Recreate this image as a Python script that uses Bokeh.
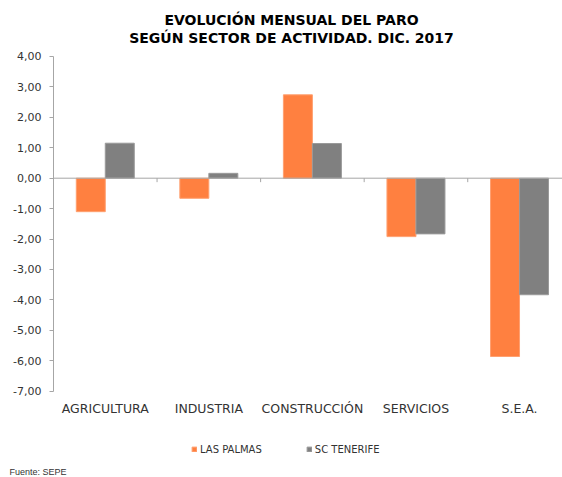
import numpy as np
from bokeh.plotting import figure
from bokeh.models import (Range1d, FixedTicker, Span, Title, Legend, LegendItem, Label)
from bokeh.core.properties import value
from bokeh.embed import file_html
from bokeh.resources import INLINE

categories = ["AGRICULTURA", "INDUSTRIA", "CONSTRUCCIÓN", "SERVICIOS", "S.E.A."]
las_palmas = [-1.10, -0.66, 2.74, -1.92, -5.86]
sc_tenerife = [1.15, 0.16, 1.14, -1.83, -3.83]
y_ticks = [-7, -6, -5, -4, -3, -2, -1, 0, 1, 2, 3, 4]
series_names = ["LAS PALMAS", "SC TENERIFE"]
title_lines = ["EVOLUCIÓN MENSUAL DEL PARO", "SEGÚN SECTOR DE ACTIVIDAD. DIC. 2017"]
source_text = "Fuente: SEPE"

ORANGE = "#FF8040"
GREY = "#808080"
AXIS_GREY = "#A6A6A6"
TEXT = "#333333"

idx = np.arange(len(categories))
bw = 0.28
y_min, y_max = min(y_ticks), max(y_ticks)

# frame spans from canvas top to the source line; value axis limited to its ticks
p = figure(width=562, height=477, output_backend="svg", toolbar_location=None,
           title=None, x_axis_location=None,
           x_range=Range1d(-0.5, 4.415), y_range=Range1d(-9.409, 5.84),
           min_border_left=53, min_border_right=0, min_border_top=0,
           min_border_bottom=13)
p.outline_line_color = None
p.xgrid.grid_line_color = None
p.ygrid.grid_line_color = None

r1 = p.vbar(x=idx - bw / 2, top=las_palmas, bottom=0, width=bw, fill_color=ORANGE,
            line_color="#FFA070", line_width=1)
r2 = p.vbar(x=idx + bw / 2, top=sc_tenerife, bottom=0, width=bw, fill_color=GREY,
            line_color="#9A9A9A", line_width=1)

# zero line and category separator ticks
p.add_layout(Span(location=0, dimension="width", line_color=AXIS_GREY, line_width=1))
bounds = idx + 0.5
p.segment(x0=bounds, x1=bounds, y0=[0] * len(bounds), y1=[-0.13] * len(bounds),
          line_color=AXIS_GREY, line_width=1)

# category labels under the value axis minimum
p.text(x=idx, y=[y_min] * len(idx), text=categories, y_offset=17,
       text_align="center", text_baseline="middle",
       text_font=value("DejaVu Sans"), text_font_size="12.5px", text_color=TEXT)

# y axis
p.yaxis.bounds = (y_min, y_max)
p.yaxis.ticker = FixedTicker(ticks=y_ticks)
p.yaxis.major_label_overrides = {t: f"{t:.2f}".replace(".", ",") for t in y_ticks}
p.yaxis.axis_line_color = AXIS_GREY
p.yaxis.major_tick_line_color = AXIS_GREY
p.yaxis.major_tick_in = 0
p.yaxis.major_tick_out = 4
p.yaxis.minor_tick_line_color = None
p.yaxis.major_label_standoff = 8
p.yaxis.major_label_text_font = "DejaVu Sans"
p.yaxis.major_label_text_font_size = "11px"
p.yaxis.major_label_text_color = TEXT

# titles (screen units relative to the frame's bottom-left)
for line, ys in zip(title_lines, [445, 427]):
    p.add_layout(Label(x=238, y=ys, x_units="screen", y_units="screen", text=line,
                       text_align="center", text_baseline="middle",
                       text_font="DejaVu Sans", text_font_size="14px",
                       text_font_style="bold", text_color="#000000"))

legend = Legend(items=[LegendItem(label=series_names[0], renderers=[r1]),
                       LegendItem(label=series_names[1], renderers=[r2])],
                orientation="horizontal", location=(138, 9),
                glyph_width=6, glyph_height=6, label_standoff=3, spacing=44,
                label_text_font="DejaVu Sans", label_text_font_size="10px",
                label_text_color=TEXT, border_line_color=None,
                background_fill_alpha=0, padding=3, margin=0, label_height=12)
p.add_layout(legend, "center")

src = Title(text=source_text, align="left", offset=-44, standoff=1,
            text_font="Liberation Sans", text_font_size="9px", text_font_style="normal",
            text_color=TEXT)
p.add_layout(src, "below")

open("out.html", "w").write(file_html(p, INLINE))
